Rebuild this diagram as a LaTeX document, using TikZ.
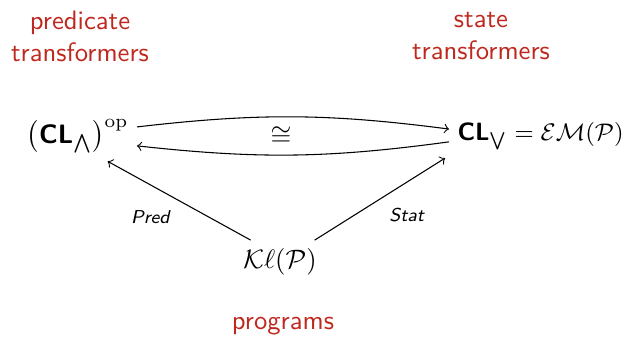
\documentclass[tikz,border=0pt]{standalone}
\usepackage{amsmath}
\usepackage{amssymb}
\usepackage{tikz}
\renewcommand{\familydefault}{\sfdefault}
\definecolor{darkred}{RGB}{190,40,30}
\tikzstyle{obj}=[inner sep=3pt]
\tikzstyle{remark}=[text=darkred,align=center]
\tikzstyle{arrlabel}=[font=\scriptsize\slshape]
\newcommand{\CLsf}{\text{\sffamily\bfseries CL}}

\begin{document}
\begin{tikzpicture}[x=0.375pt,y=-0.375pt]
    \useasboundingbox (0,0) rectangle (630,343);
    \node[remark] (PT) at (80,36)  {predicate\\transformers};
    \node[remark] (ST) at (481,36) {state\\transformers};
    \node[remark] (PR) at (283,326) {programs};
    \node[obj,anchor=east] (OP) at (137,136) {$\bigl(\CLsf_{\bigwedge}\bigr)^{\mathrm{op}}$};
    \node[obj,anchor=west,font=\fontsize{9.4}{11}\selectfont] (CL) at (449,136) {$\CLsf_{\bigvee} = \mathcal{EM}(\mathcal{P})$};
    \node[obj] (KL) at (280,262) {$\mathcal{K}\ell(\mathcal{P})$};
	 \draw[->] ([yshift=3.4pt]OP.east) to[bend left=7] ([yshift=2.6pt]CL.west);
	 \draw[->] ([yshift=-2.2pt]CL.west) to[bend left=7] ([yshift=-3.7pt]OP.east);
    \node[inner sep=0pt] (ISO) at (281,136) {$\cong$};
	 \draw[->] ([xshift=-11pt]KL.north) -- node[arrlabel,below left] {Pred} ([xshift=-11pt]OP.south east);
	 \draw[->] ([xshift=13pt]KL.north) -- node[arrlabel,below right] {Stat} ([xshift=-1.5pt]CL.south west);
\end{tikzpicture}
\end{document}
